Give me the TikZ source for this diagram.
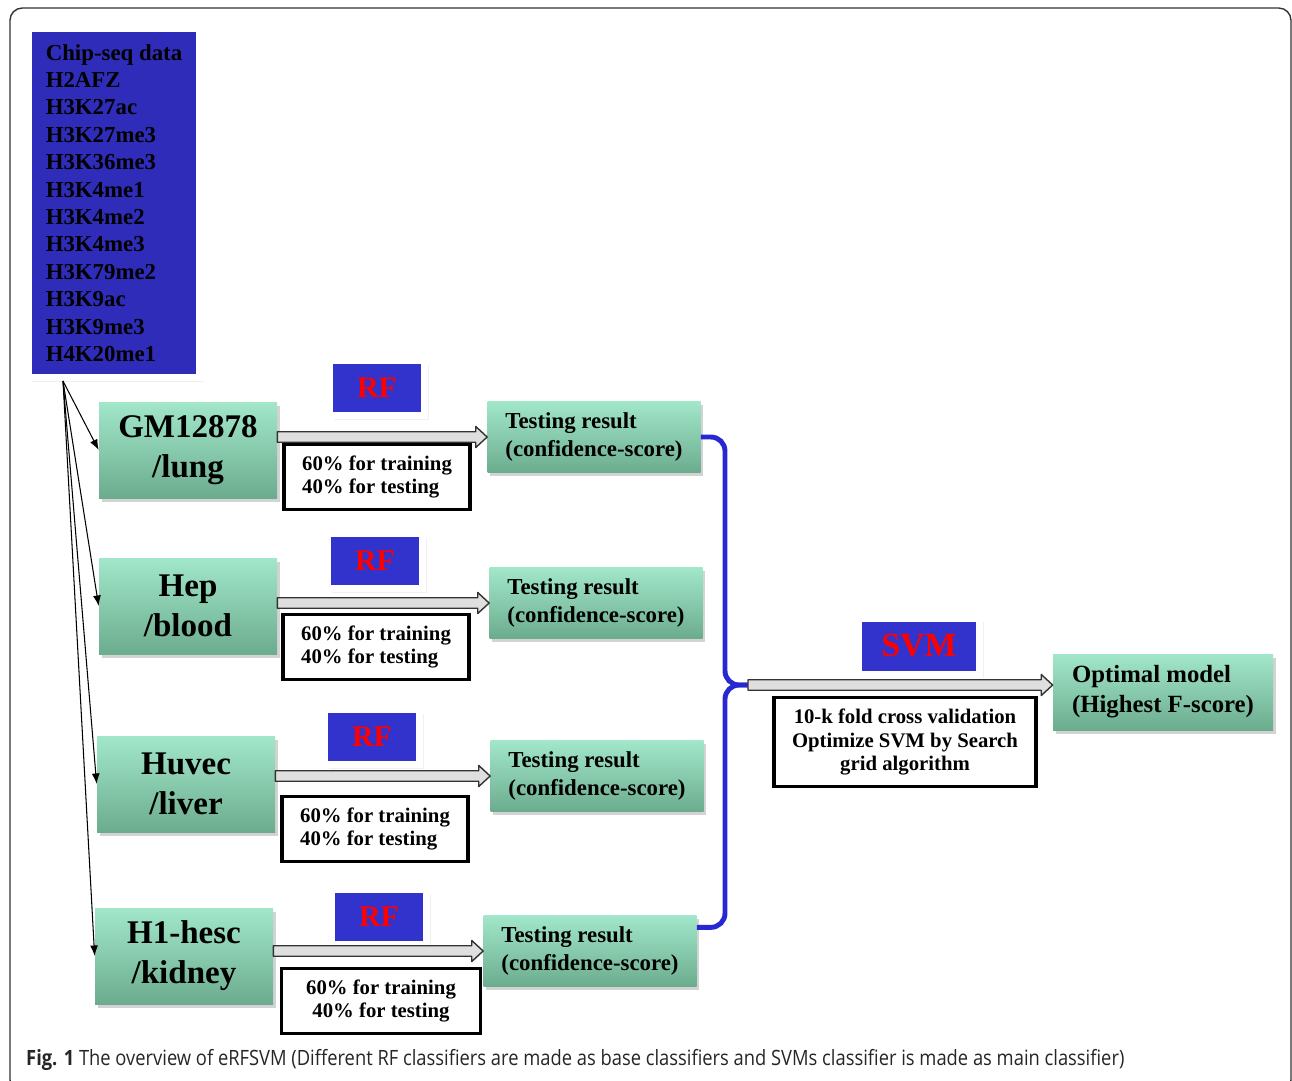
\documentclass[tikz,border=0pt]{standalone}
\usepackage{fontspec}
\setmainfont{Liberation Serif}
\newfontfamily\capfont[FakeStretch=0.87]{Open Sans}
\usetikzlibrary{arrows}
\usetikzlibrary{arrows.meta}
\usetikzlibrary{calc}
\usetikzlibrary{shadows}
\usetikzlibrary{positioning}

\definecolor{chipblue}{RGB}{46,44,184}
\definecolor{rfblue}{RGB}{50,50,205}
\definecolor{celltop}{RGB}{162,231,202}
\definecolor{cellbot}{RGB}{108,172,142}
\definecolor{braceblue}{RGB}{40,40,210}

\tikzset{
  sized/.style 2 args={minimum width=#1*0.02cm, minimum height=#2*0.02cm},
  cellfill/.style={top color=celltop, bottom color=cellbot, inner sep=0pt,
    drop shadow={shadow xshift=1.5pt, shadow yshift=-2pt, opacity=0.35}},
  cell/.style={cellfill, sized={178}{96}, align=center,
    font=\bfseries\fontsize{18.8}{22.7}\selectfont},
  res/.style={cellfill, sized={213}{71}, align=left,
    font=\bfseries\fontsize{13}{16.4}\selectfont},
  opt/.style={cellfill, sized={220}{76}, align=left,
    font=\bfseries\fontsize{14.1}{17}\selectfont},
  split/.style={draw, line width=2.2pt, fill=white, sized={186}{65}, align=left,
    font=\bfseries\fontsize{11.8}{13.6}\selectfont},
  rf/.style={fill=rfblue, draw=white, line width=4pt, sized={95}{55}, text=red,
    font=\bfseries\fontsize{17}{20}\selectfont,
    drop shadow={shadow xshift=2.3pt, shadow yshift=-2.3pt, opacity=0.12}},
  chip/.style={fill=chipblue, draw=white, line width=4pt, sized={172}{349}, align=left,
    font=\bfseries\fontsize{13}{15.6}\selectfont,
    drop shadow={shadow xshift=2.3pt, shadow yshift=-2.3pt, opacity=0.12}},
  feed/.style={-{Latex[length=6pt,width=4.5pt]}, line width=0.6pt},
  fatarr/.style={draw=black!80, fill=gray!25, line width=0.8pt, line join=round},
  brace/.style={draw=braceblue, line width=2.8pt, rounded corners=8pt}
}

% block arrow between two points, at the height of the first
\newcommand{\fatarrow}[2]{%
  \draw[fatarr] let \p1=(#1), \p2=(#2) in
    (\x1,\y1+3pt) -- (\x2-6.5pt,\y1+3pt) -- (\x2-6.5pt,\y1+6pt) -- (\x2,\y1)
    -- (\x2-6.5pt,\y1-6pt) -- (\x2-6.5pt,\y1-3pt) -- (\x1,\y1-3pt) -- cycle;}

\begin{document}
\begin{tikzpicture}[x=0.02cm,y=-0.02cm]
\useasboundingbox (0,0) rectangle (1292,1080);
\draw[black!80, line width=0.8pt, rounded corners=7pt] (10,8) rectangle (1291,1092);

%=== Chip-seq data
\node[chip] (chip) at (114,203) {Chip-seq data\\H2AFZ\\H3K27ac\\H3K27me3\\H3K36me3\\H3K4me1\\H3K4me2\\H3K4me3\\H3K79me2\\H3K9ac\\H3K9me3\\H4K20me1};
\coordinate (src) at (63,381);

%=== Cell lines
\node[cell] (cell1) at (188,450) {GM12878\\/lung};
\node[cell] (cell2) at (188,606) {Hep\\/blood};
\node[cell] (cell3) at (186,784) {Huvec\\/liver};
\node[cell] (cell4) at (184,956) {H1-hesc\\/kidney};

\foreach \i in {1,...,4}
  \draw[feed] (src) -- (cell\i.west);

%=== RF classifiers
\node[rf] (rf1) at (377,388) {RF};
\node[rf] (rf2) at (375,561) {RF};
\node[rf] (rf3) at (372,737) {RF};
\node[rf] (rf4) at (379,917) {RF};

\node[split] (split1) at (377,477) {60\% for training\\40\% for testing};
\node[split] (split2) at (376,647) {60\% for training\\40\% for testing};
\node[split] (split3) at (375,829) {60\% for training\\40\% for testing};
\node[split, sized={199}{65}, align=center] (split4) at (381,1001) {60\% for training\\40\% for testing};

%=== Testing results
\node[res] (res1) at (594,437) {Testing result\\(confidence-score)};
\node[res] (res2) at (596,603) {Testing result\\(confidence-score)};
\node[res] (res3) at (597,776) {Testing result\\(confidence-score)};
\node[res] (res4) at (590,951) {Testing result\\(confidence-score)};

\foreach \i in {1,...,4}
  \fatarrow{cell\i.east |- res\i.west}{res\i.west};

%=== Brace
\coordinate (cusp) at (748,685);
\draw[brace] (res1.east) -| (725,685) -- (cusp);
\draw[brace] ($(res4.north east)!0.17!(res4.south east)$) -| (725,685) -- (cusp);

%=== SVM
\node[rf, sized={121}{56}, font=\bfseries\fontsize{19.3}{22}\selectfont] (svm) at (919,646) {SVM};
\node[split, sized={262}{89}, align=center] (svmtxt) at (905,742) {10-k fold cross validation\\Optimize SVM by Search\\grid algorithm};
\node[opt] (opt) at (1163,692) {Optimal model\\(Highest F-score)};
\fatarrow{cusp}{opt.west |- cusp};

% Caption
\node[anchor=west, text=black!85, font=\capfont\fontsize{12}{14}\selectfont] (cap) at (20,1060)
  {\textbf{Fig. 1} The overview of eRFSVM (Different RF classifiers are made as base classifiers and SVMs classifier is made as main classifier)};
\end{tikzpicture}
\end{document}
